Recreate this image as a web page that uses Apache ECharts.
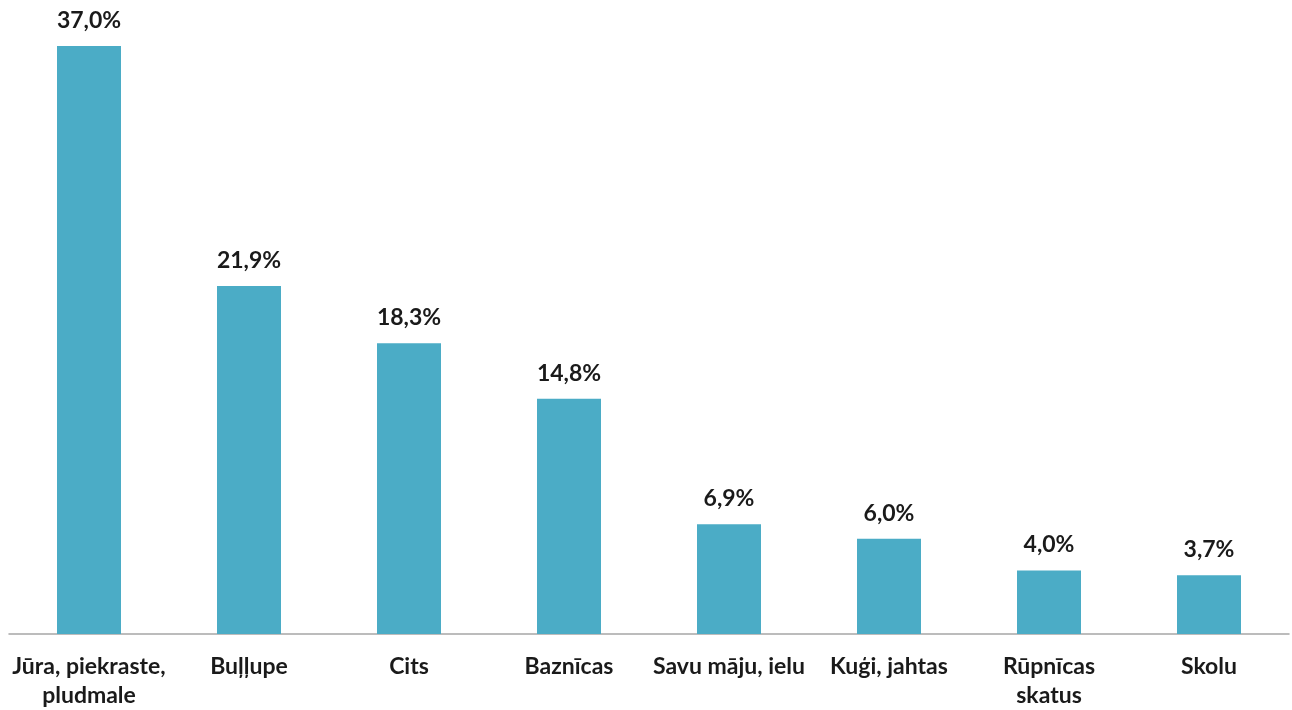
<!DOCTYPE html>
<html>
<head>
<meta charset="utf-8">
<script src="https://cdn.jsdelivr.net/npm/echarts@6/dist/echarts.min.js"></script>
<style>
  html, body { margin: 0; padding: 0; background: #fff; }
  #chart { width: 1292px; height: 710px; }
</style>
</head>
<body>
<div id="chart"></div>
<script>
// kategorijas un vērtības (%)
var categories = ['Jūra, piekraste,\npludmale', 'Buļļupe', 'Cits', 'Baznīcas', 'Savu māju, ielu', 'Kuģi, jahtas', 'Rūpnīcas\nskatus', 'Skolu'];
var values = [37.0, 21.9, 18.3, 14.8, 6.9, 6.0, 4.0, 3.7];

var fontFam = 'Lato, "Open Sans", sans-serif';

var option = {
  animation: false,
  grid: { left: 9, right: 3, top: 46, bottom: 67, containLabel: false },
  xAxis: {
    type: 'category',
    data: categories,
    axisLine: { show: true, lineStyle: { color: '#a6a6a6', width: 1.5 } },
    axisTick: { show: false },
    axisLabel: {
      interval: 0,
      margin: 18,
      color: '#1a1a1a',
      fontWeight: 'bold',
      fontSize: 23,
      lineHeight: 29,
      fontFamily: fontFam
    }
  },
  yAxis: {
    type: 'value',
    min: 0,
    max: 37,
    show: false,
    splitLine: { show: false }
  },
  series: [{
    type: 'bar',
    data: values,
    barWidth: '40%',
    itemStyle: { color: '#4bacc6' },
    label: {
      show: true,
      position: 'top',
      distance: 14,
      color: '#1a1a1a',
      fontWeight: 'bold',
      fontSize: 23,
      fontFamily: fontFam,
      formatter: function (p) { return p.value.toFixed(1).replace('.', ',') + '%'; }
    }
  }]
};

var myChart = echarts.init(document.getElementById('chart'));
myChart.setOption(option);
</script>
</body>
</html>
